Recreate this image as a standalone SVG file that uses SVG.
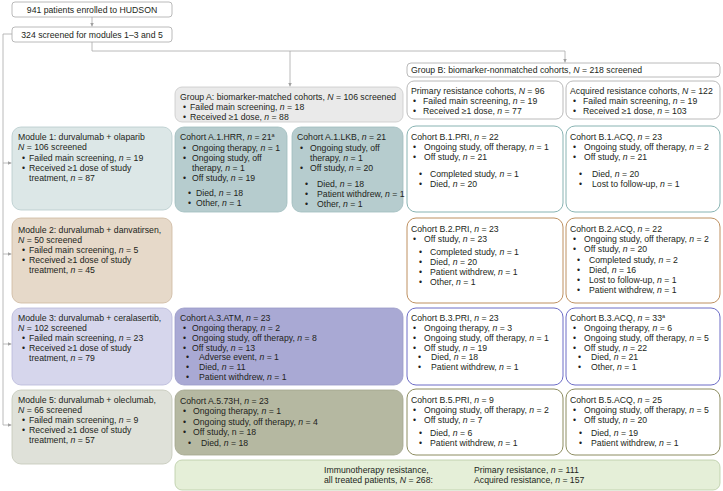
<svg xmlns="http://www.w3.org/2000/svg" width="723" height="491" viewBox="0 0 723 491">
<defs>
<marker id="ah" markerUnits="userSpaceOnUse" markerWidth="5" markerHeight="5" refX="4" refY="2" orient="auto"><path d="M0,0 L4,2 L0,4 z" fill="#a0a0a0"/></marker>
<style>
text{font-family:"Liberation Sans",Arial,sans-serif;font-size:8.7px;fill:#231f20}
.i{font-style:italic}
.m{text-anchor:middle}
.sup{font-size:5.5px}
.c{fill:none;stroke:#a8a8a8;stroke-width:0.8}
.plain{fill:#fff;stroke:#a8a8a8;stroke-width:0.8}
.ga{fill:#eaeaea;stroke:#c9c9c9;stroke-width:0.8}
.m1{fill:#dce7e7;stroke:#b6cacb;stroke-width:0.8}
.a1{fill:#b6ccce;stroke:#9fbcbe;stroke-width:0.8}
.b1{fill:#fff;stroke:#7aaaa9;stroke-width:0.9}
.m2{fill:#e6d9c9;stroke:#cdb89f;stroke-width:0.8}
.b2{fill:#fff;stroke:#b7834f;stroke-width:0.9}
.m3{fill:#d6d6ec;stroke:#b7b7d9;stroke-width:0.8}
.a3{fill:#a9a9d4;stroke:#9a9ac8;stroke-width:0.8}
.b3{fill:#fff;stroke:#5b5bbf;stroke-width:0.9}
.m5{fill:#dfe1d9;stroke:#c3c6b7;stroke-width:0.8}
.a5{fill:#b5b8a1;stroke:#a3a68e;stroke-width:0.8}
.b5{fill:#fff;stroke:#80804f;stroke-width:0.9}
.im{fill:#e5efd8;stroke:#b9cba4;stroke-width:0.8}
</style>
</defs>

<g id="connectors">
<path class="c" d="M92,17 V26.5" marker-end="url(#ah)"/>
<path class="c" d="M92,42 V51 H565 V62.5" marker-end="url(#ah)"/>
<path class="c" d="M290,51 V86.5" marker-end="url(#ah)"/>
<path class="c" d="M12,34 H3 V425"/>
<path class="c" d="M3,163 H11.5" marker-end="url(#ah)"/>
<path class="c" d="M3,254 H11.5" marker-end="url(#ah)"/>
<path class="c" d="M3,344 H11.5" marker-end="url(#ah)"/>
<path class="c" d="M3,425 H11.5" marker-end="url(#ah)"/>
</g>

<g id="enrolled">
<rect class="plain" x="12" y="2" width="160" height="15" rx="3"/>
<text class="m" x="92" y="12.5">941 patients enrolled to HUDSON</text>
</g>
<g id="screened">
<rect class="plain" x="12" y="27" width="160" height="15" rx="3"/>
<text class="m" x="92" y="37.5">324 screened for modules 1–3 and 5</text>
</g>

<g id="groupA">
<rect class="ga" x="175" y="87" width="228" height="35" rx="7"/>
<text x="180" y="100">Group A: biomarker-matched cohorts, <tspan class="i">N</tspan> = 106 screened</text>
<text x="183" y="110">•</text><text x="190" y="110">Failed main screening, <tspan class="i">n</tspan> = 18</text>
<text x="183" y="119.5">•</text><text x="190" y="119.5">Received ≥1 dose, <tspan class="i">n</tspan> = 88</text>
</g>

<g id="groupB">
<rect class="plain" x="407" y="63" width="313" height="14" rx="4"/>
<text x="411" y="73">Group B: biomarker-nonmatched cohorts, <tspan class="i">N</tspan> = 218 screened</text>
</g>

<g id="primary">
<rect class="plain" x="407" y="81" width="156" height="38" rx="7"/>
<text x="411" y="94">Primary resistance cohorts, <tspan class="i">N</tspan> = 96</text>
<text x="413" y="104">•</text><text x="423" y="104">Failed main screening, <tspan class="i">n</tspan> = 19</text>
<text x="413" y="114">•</text><text x="423" y="114">Received ≥1 dose, <tspan class="i">n</tspan> = 77</text>
</g>
<g id="acquired">
<rect class="plain" x="566" y="81" width="154" height="38" rx="7"/>
<text x="570" y="94">Acquired resistance cohorts, <tspan class="i">N</tspan> = 122</text>
<text x="573" y="104">•</text><text x="583" y="104">Failed main screening, <tspan class="i">n</tspan> = 19</text>
<text x="573" y="114">•</text><text x="583" y="114">Received ≥1 dose, <tspan class="i">n</tspan> = 103</text>
</g>

<g id="module1">
<rect class="m1" x="12" y="127" width="160" height="83" rx="9"/>
<text x="18" y="140">Module 1: durvalumab + olaparib</text>
<text x="18" y="150"><tspan class="i">N</tspan> = 106 screened</text>
<text x="22" y="160.5">•</text><text x="29" y="160.5">Failed main screening, <tspan class="i">n</tspan> = 19</text>
<text x="22" y="170.5">•</text><text x="29" y="170.5">Received ≥1 dose of study</text>
<text x="29" y="180.5">treatment, <tspan class="i">n</tspan> = 87</text>
</g>
<g id="cohortA1HRR">
<rect class="a1" x="175" y="127" width="112" height="85" rx="9"/>
<text x="180" y="140">Cohort A.1.HRR, <tspan class="i">n</tspan> = 21<tspan class="sup" dy="-3.5">a</tspan></text>
<text x="183" y="150.5">•</text><text x="192" y="150.5">Ongoing therapy, <tspan class="i">n</tspan> = 1</text>
<text x="183" y="160.5">•</text><text x="192" y="160.5">Ongoing study, off</text>
<text x="192" y="170.5">therapy, <tspan class="i">n</tspan> = 1</text>
<text x="183" y="180.5">•</text><text x="192" y="180.5">Off study, <tspan class="i">n</tspan> = 19</text>
<text x="188" y="195.5">•</text><text x="196" y="195.5">Died, <tspan class="i">n</tspan> = 18</text>
<text x="188" y="205.5">•</text><text x="196" y="205.5">Other, <tspan class="i">n</tspan> = 1</text>
</g>
<g id="cohortA1LKB">
<rect class="a1" x="292" y="127" width="111" height="85" rx="9"/>
<text x="297" y="140">Cohort A.1.LKB, <tspan class="i">n</tspan> = 21</text>
<text x="300" y="150.5">•</text><text x="310" y="150.5">Ongoing study, off</text>
<text x="310" y="160.5">therapy, <tspan class="i">n</tspan> = 1</text>
<text x="300" y="170.5">•</text><text x="310" y="170.5">Off study, <tspan class="i">n</tspan> = 20</text>
<text x="305" y="186.5">•</text><text x="317" y="186.5">Died, <tspan class="i">n</tspan> = 18</text>
<text x="305" y="196.5">•</text><text x="317" y="196.5">Patient withdrew, <tspan class="i">n</tspan> = 1</text>
<text x="305" y="206.5">•</text><text x="317" y="206.5">Other, <tspan class="i">n</tspan> = 1</text>
</g>
<g id="cohortB1PRI">
<rect class="b1" x="407" y="126" width="156" height="86" rx="9"/>
<text x="411" y="140">Cohort B.1.PRI, <tspan class="i">n</tspan> = 22</text>
<text x="413" y="150">•</text><text x="424" y="150">Ongoing study, off therapy, <tspan class="i">n</tspan> = 1</text>
<text x="413" y="160">•</text><text x="424" y="160">Off study, <tspan class="i">n</tspan> = 21</text>
<text x="419" y="177">•</text><text x="430" y="177">Completed study, <tspan class="i">n</tspan> = 1</text>
<text x="419" y="187">•</text><text x="430" y="187">Died, <tspan class="i">n</tspan> = 20</text>
</g>
<g id="cohortB1ACQ">
<rect class="b1" x="566" y="126" width="154" height="86" rx="9"/>
<text x="570" y="140">Cohort B.1.ACQ, <tspan class="i">n</tspan> = 23</text>
<text x="573" y="150">•</text><text x="584" y="150">Ongoing study, off therapy, <tspan class="i">n</tspan> = 2</text>
<text x="573" y="160">•</text><text x="584" y="160">Off study, <tspan class="i">n</tspan> = 21</text>
<text x="579" y="177">•</text><text x="592" y="177">Died, <tspan class="i">n</tspan> = 20</text>
<text x="579" y="187">•</text><text x="592" y="187">Lost to follow-up, <tspan class="i">n</tspan> = 1</text>
</g>

<g id="module2">
<rect class="m2" x="12" y="218" width="160" height="85" rx="9"/>
<text x="18" y="233">Module 2: durvalumab + danvatirsen,</text>
<text x="18" y="242.5"><tspan class="i">N</tspan> = 50 screened</text>
<text x="22" y="252.5">•</text><text x="29" y="252.5">Failed main screening, <tspan class="i">n</tspan> = 5</text>
<text x="22" y="262.5">•</text><text x="29" y="262.5">Received ≥1 dose of study</text>
<text x="29" y="272.5">treatment, <tspan class="i">n</tspan> = 45</text>
</g>
<g id="cohortB2PRI">
<rect class="b2" x="407" y="218" width="156" height="85" rx="9"/>
<text x="411" y="232">Cohort B.2.PRI, <tspan class="i">n</tspan> = 23</text>
<text x="413" y="242">•</text><text x="424" y="242">Off study, <tspan class="i">n</tspan> = 23</text>
<text x="419" y="255">•</text><text x="430" y="255">Completed study, <tspan class="i">n</tspan> = 1</text>
<text x="419" y="265">•</text><text x="430" y="265">Died, <tspan class="i">n</tspan> = 20</text>
<text x="419" y="275">•</text><text x="430" y="275">Patient withdrew, <tspan class="i">n</tspan> = 1</text>
<text x="419" y="285">•</text><text x="430" y="285">Other, <tspan class="i">n</tspan> = 1</text>
</g>
<g id="cohortB2ACQ">
<rect class="b2" x="566" y="218" width="154" height="85" rx="9"/>
<text x="570" y="231.5">Cohort B.2.ACQ, <tspan class="i">n</tspan> = 22</text>
<text x="573" y="241.5">•</text><text x="584" y="241.5">Ongoing study, off therapy, <tspan class="i">n</tspan> = 2</text>
<text x="573" y="251.5">•</text><text x="584" y="251.5">Off study, <tspan class="i">n</tspan> = 20</text>
<text x="577" y="263">•</text><text x="589" y="263">Completed study, <tspan class="i">n</tspan> = 2</text>
<text x="577" y="273">•</text><text x="589" y="273">Died, <tspan class="i">n</tspan> = 16</text>
<text x="577" y="283">•</text><text x="589" y="283">Lost to follow-up, <tspan class="i">n</tspan> = 1</text>
<text x="577" y="293">•</text><text x="589" y="293">Patient withdrew, <tspan class="i">n</tspan> = 1</text>
</g>

<g id="module3">
<rect class="m3" x="12" y="308" width="160" height="77" rx="9"/>
<text x="18" y="321">Module 3: durvalumab + ceralasertib,</text>
<text x="18" y="331"><tspan class="i">N</tspan> = 102 screened</text>
<text x="22" y="341">•</text><text x="29" y="341">Failed main screening, <tspan class="i">n</tspan> = 23</text>
<text x="22" y="351">•</text><text x="29" y="351">Received ≥1 dose of study</text>
<text x="29" y="360.5">treatment, <tspan class="i">n</tspan> = 79</text>
</g>
<g id="cohortA3ATM">
<rect class="a3" x="175" y="308" width="228" height="77" rx="9"/>
<text x="180" y="321">Cohort A.3.ATM, <tspan class="i">n</tspan> = 23</text>
<text x="183" y="331">•</text><text x="192" y="331">Ongoing therapy, <tspan class="i">n</tspan> = 2</text>
<text x="183" y="341">•</text><text x="192" y="341">Ongoing study, off therapy, <tspan class="i">n</tspan> = 8</text>
<text x="183" y="350.5">•</text><text x="192" y="350.5">Off study, <tspan class="i">n</tspan> = 13</text>
<text x="186" y="360">•</text><text x="199" y="360">Adverse event, <tspan class="i">n</tspan> = 1</text>
<text x="186" y="370">•</text><text x="199" y="370">Died, <tspan class="i">n</tspan> = 11</text>
<text x="186" y="380">•</text><text x="199" y="380">Patient withdrew, <tspan class="i">n</tspan> = 1</text>
</g>
<g id="cohortB3PRI">
<rect class="b3" x="407" y="308" width="156" height="77" rx="9"/>
<text x="411" y="321">Cohort B.3.PRI, <tspan class="i">n</tspan> = 23</text>
<text x="413" y="331">•</text><text x="424" y="331">Ongoing therapy, <tspan class="i">n</tspan> = 3</text>
<text x="413" y="341">•</text><text x="424" y="341">Ongoing study, off therapy, <tspan class="i">n</tspan> = 1</text>
<text x="413" y="351">•</text><text x="424" y="351">Off study, <tspan class="i">n</tspan> = 19</text>
<text x="418" y="360">•</text><text x="431" y="360">Died, <tspan class="i">n</tspan> = 18</text>
<text x="418" y="370">•</text><text x="431" y="370">Patient withdrew, <tspan class="i">n</tspan> = 1</text>
</g>
<g id="cohortB3ACQ">
<rect class="b3" x="566" y="308" width="154" height="77" rx="9"/>
<text x="570" y="321">Cohort B.3.ACQ, <tspan class="i">n</tspan> = 33<tspan class="sup" dy="-3.5">a</tspan></text>
<text x="573" y="331">•</text><text x="584" y="331">Ongoing therapy, <tspan class="i">n</tspan> = 6</text>
<text x="573" y="341">•</text><text x="584" y="341">Ongoing study, off therapy, <tspan class="i">n</tspan> = 5</text>
<text x="573" y="351">•</text><text x="584" y="351">Off study, <tspan class="i">n</tspan> = 22</text>
<text x="578" y="360">•</text><text x="591" y="360">Died, <tspan class="i">n</tspan> = 21</text>
<text x="578" y="370">•</text><text x="591" y="370">Other, <tspan class="i">n</tspan> = 1</text>
</g>

<g id="module5">
<rect class="m5" x="12" y="390" width="160" height="74" rx="9"/>
<text x="18" y="403">Module 5: durvalumab + oleclumab,</text>
<text x="18" y="413"><tspan class="i">N</tspan> = 66 screened</text>
<text x="22" y="423">•</text><text x="29" y="423">Failed main screening, <tspan class="i">n</tspan> = 9</text>
<text x="22" y="433">•</text><text x="29" y="433">Received ≥1 dose of study</text>
<text x="29" y="443">treatment, <tspan class="i">n</tspan> = 57</text>
</g>
<g id="cohortA573H">
<rect class="a5" x="175" y="390" width="228" height="65" rx="9"/>
<text x="180" y="403.5">Cohort A.5.73H, <tspan class="i">n</tspan> = 23</text>
<text x="183" y="414">•</text><text x="193" y="414">Ongoing therapy, <tspan class="i">n</tspan> = 1</text>
<text x="183" y="424.5">•</text><text x="193" y="424.5">Ongoing study, off therapy, <tspan class="i">n</tspan> = 4</text>
<text x="183" y="434.5">•</text><text x="193" y="434.5">Off study, n = 18</text>
<text x="188" y="445.5">•</text><text x="201" y="445.5">Died, <tspan class="i">n</tspan> = 18</text>
</g>
<g id="cohortB5PRI">
<rect class="b5" x="407" y="389" width="156" height="66" rx="9"/>
<text x="411" y="403">Cohort B.5.PRI, <tspan class="i">n</tspan> = 9</text>
<text x="413" y="413">•</text><text x="424" y="413">Ongoing study, off therapy, <tspan class="i">n</tspan> = 2</text>
<text x="413" y="423">•</text><text x="424" y="423">Off study, <tspan class="i">n</tspan> = 7</text>
<text x="419" y="436">•</text><text x="430" y="436">Died, <tspan class="i">n</tspan> = 6</text>
<text x="419" y="446">•</text><text x="430" y="446">Patient withdrew, <tspan class="i">n</tspan> = 1</text>
</g>
<g id="cohortB5ACQ">
<rect class="b5" x="566" y="389" width="154" height="66" rx="9"/>
<text x="570" y="403">Cohort B.5.ACQ, <tspan class="i">n</tspan> = 25</text>
<text x="573" y="413">•</text><text x="584" y="413">Ongoing study, off therapy, <tspan class="i">n</tspan> = 5</text>
<text x="573" y="423">•</text><text x="584" y="423">Off study, <tspan class="i">n</tspan> = 20</text>
<text x="579" y="436">•</text><text x="591" y="436">Died, <tspan class="i">n</tspan> = 19</text>
<text x="579" y="446">•</text><text x="591" y="446">Patient withdrew, <tspan class="i">n</tspan> = 1</text>
</g>

<g id="immunotherapy">
<rect class="im" x="175" y="460" width="545" height="30" rx="7"/>
<text x="324" y="473">Immunotherapy resistance,</text>
<text x="324" y="482.5">all treated patients, <tspan class="i">N</tspan> = 268:</text>
<text x="474" y="473">Primary resistance, <tspan class="i">n</tspan> = 111</text>
<text x="474" y="482.5">Acquired resistance, <tspan class="i">n</tspan> = 157</text>
</g>
</svg>
